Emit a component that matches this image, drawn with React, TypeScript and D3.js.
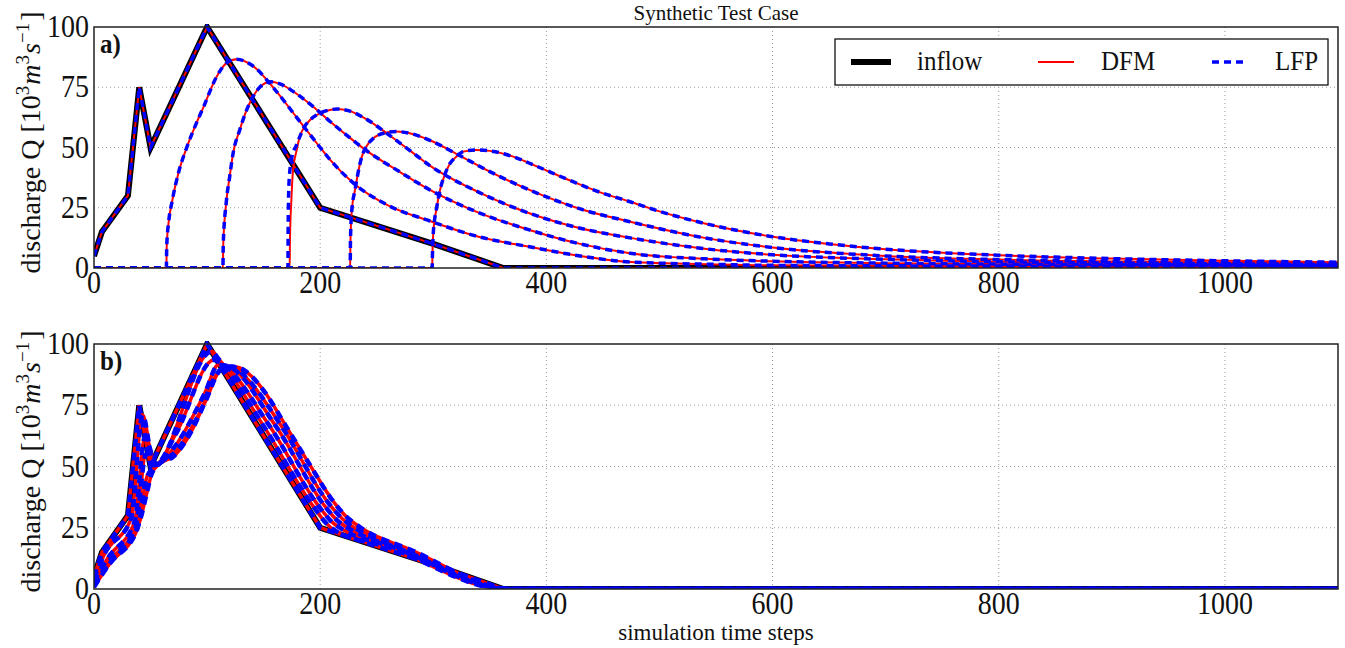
import React from 'react';
import * as d3 from 'd3';

const W = 1345;
const H = 648;
const FONT = '"Liberation Serif", "DejaVu Serif", serif';

const xTicks = [0, 200, 400, 600, 800, 1000];
const yTicks = [0, 25, 50, 75, 100];
const xGrid = [200, 400, 600, 800, 1000];
const yGrid = [25, 50, 75];
const xDomain = [0, 1100];
const yDomain = [0, 100];

const titleText = 'Synthetic Test Case';
const xLabelText = 'simulation time steps';
const legendLabels = ['inflow', 'DFM', 'LFP'];
const panelLabels = ['a)', 'b)'];

// inflow hydrograph
const inflow: [number, number][] = [
  [0, 5], [7, 15], [30, 30], [40, 75], [50, 50], [100, 100], [200, 25], [300, 10], [362, 0], [1100, 0],
];

// panel a: routed hydrographs at downstream locations (DFM)
const dfmA1: [number, number][] = [
  [0, 0], [64, 0], [64.3, 9], [66, 19], [69, 27.5], [75, 40], [82, 50], [90, 59.5], [97, 67], [108, 79],
  [117, 85], [126, 86.6], [140, 84], [160, 74], [180, 62], [200, 50], [209, 44.8], [230, 35], [260, 26],
  [297, 19.5], [340, 13], [385, 8.8], [430, 5], [474, 2.5], [550, 1.5], [600, 1.1], [800, 0.8], [1100, 0.6],
];
const dfmA2: [number, number][] = [
  [0, 0], [114, 0], [114.3, 10], [117, 27.5], [120, 38], [123, 47.6], [129, 57.5], [135, 65.6], [147, 75.2],
  [156, 77.3], [165, 76.3], [180, 72], [195, 66.5], [209, 60.7], [225, 54.5], [240, 49], [270, 40], [297, 32.4],
  [340, 23], [385, 15.8], [430, 10], [474, 6.1], [540, 3.8], [600, 2.8], [700, 2], [800, 1.6], [950, 1.3], [1100, 1.1],
];
const dfmA3: [number, number][] = [
  [0, 0], [173, 0], [173.3, 12], [174.5, 28], [176, 40.7], [179, 48.5], [182, 54.5], [186, 58.5], [191, 61.4],
  [200, 64.3], [208.6, 65.6], [215, 66], [225, 65.3], [240, 62], [260, 55.5], [280, 48.5], [297, 42.5], [340, 31.5],
  [385, 22.7], [430, 16.5], [474, 12.5], [540, 8], [600, 5.5], [700, 3.6], [800, 2.6], [950, 1.9], [1100, 1.5],
];
const dfmA4: [number, number][] = [
  [0, 0], [226.5, 0], [226.8, 12], [228, 24], [230.8, 32.4], [236.7, 46], [241, 50.5], [247, 53.8], [257, 56],
  [267.6, 56.6], [280, 55.8], [297, 53], [320, 47.5], [350, 40], [385, 32.4], [430, 24.5], [474, 19.2],
  [540, 12.5], [600, 8.5], [700, 5], [800, 3.5], [950, 2.5], [1100, 1.9],
];
const dfmA5: [number, number][] = [
  [0, 0], [299, 0], [299.3, 6], [300, 14.4], [303, 25], [306, 32.4], [310, 38.5], [314.8, 43.4], [320, 46],
  [326.5, 48.3], [338, 49], [350, 48.6], [370, 46.3], [390, 42.5], [420, 36.5], [447, 31.5], [474, 27.5], [500, 23.5],
  [540, 18.5], [600, 13], [650, 10], [700, 7.8], [800, 5.3], [900, 3.9], [1000, 3], [1100, 2.4],
];
// LFP differs slightly from DFM at the front of location 3
const lfpA3: [number, number][] = [
  [0, 0], [171.5, 0], [171.7, 18], [172.5, 36], [175, 46], [179, 51], [182, 54.5], [186, 58.5], [191, 61.4],
  [200, 64.3], [208.6, 65.6], [215, 66], [225, 65.3], [240, 62], [260, 55.5], [280, 48.5], [297, 42.5], [340, 31.5],
  [385, 22.7], [430, 16.5], [474, 12.5], [540, 8], [600, 5.5], [700, 3.6], [800, 2.6], [950, 1.9], [1100, 1.5],
];

// panel b: routed hydrographs (DFM ~ LFP)
const dfmB1: [number, number][] = [
  [0, 4], [9, 14], [33, 29], [43, 71], [53, 50.5], [104, 97], [110, 94], [150, 66.5], [195, 33], [205, 27],
  [212, 24.2], [260, 17], [364, 0], [1100, 0],
];
const dfmB2: [number, number][] = [
  [0, 3], [12, 12.5], [36, 27.5], [45, 62], [55, 51], [72, 63], [106, 93.5], [113, 92], [155, 66.7], [200, 33],
  [210, 27.5], [220, 24.3], [265, 17], [366, 0], [1100, 0],
];
const dfmB3: [number, number][] = [
  [0, 2], [13, 11], [37, 25.5], [46, 55], [56, 51], [72, 58.5], [98, 80], [110, 91.5], [118, 91], [160, 67],
  [205, 33.3], [215, 28], [226, 24.5], [270, 16.5], [367, 0], [1100, 0],
];
const dfmB4: [number, number][] = [
  [0, 1.5], [14, 10.5], [38, 24], [47, 46], [57, 51], [72, 56], [98, 76], [112, 89.5], [122, 90.8], [135, 86],
  [165, 67], [210, 33.5], [220, 28.5], [232, 24.5], [275, 16], [368, 0], [1100, 0],
];
const dfmB5: [number, number][] = [
  [0, 0.8], [14, 10.4], [32, 20], [40.7, 28], [46.6, 39], [51, 47], [58, 51.2], [70, 54], [82, 61], [94, 72],
  [105, 85], [117, 90.7], [126, 90.6], [140, 86.5], [150, 81], [170, 66.3], [190, 51.3], [212, 35.5], [222, 30],
  [236, 25], [280, 16], [369, 0], [1100, 0],
];

const panelADfm = [inflow, dfmA1, dfmA2, dfmA3, dfmA4, dfmA5];
const panelALfp = [inflow, dfmA1, dfmA2, lfpA3, dfmA4, dfmA5];
const panelBDfm = [inflow, dfmB1, dfmB2, dfmB3, dfmB4, dfmB5];
const panelBLfp = [inflow, dfmB1, dfmB2, dfmB3, dfmB4, dfmB5];

const PL = 94;
const PR = 1338;
const panels = [
  { top: 27, bottom: 268, dfm: panelADfm, lfp: panelALfp, redW: 2, blueW: 3.5, dash: '7 5', label: panelLabels[0] },
  { top: 344, bottom: 589, dfm: panelBDfm, lfp: panelBLfp, redW: 3.5, blueW: 4.5, dash: '8 6', label: panelLabels[1] },
];

function Txt({ x, y, size, anchor = 'start', weight = 'normal', stretch = 1.12, children }: any) {
  return (
    <text
      transform={`translate(${x},${y}) scale(1,${stretch})`}
      textAnchor={anchor}
      fontFamily={FONT}
      fontSize={size}
      fontWeight={weight}
      fill="#111"
    >
      {children}
    </text>
  );
}

function YLabel({ cx, cy }: { cx: number; cy: number }) {
  return (
    <text
      transform={`translate(${cx},${cy}) rotate(-90)`}
      textAnchor="middle"
      fontFamily={FONT}
      fontSize={28}
      fill="#111"
    >
      discharge Q [10
      <tspan dy={-11} fontSize={19}>3</tspan>
      <tspan dy={11} fontStyle="italic" dx={1}>m</tspan>
      <tspan dy={-11} fontSize={19}>3</tspan>
      <tspan dy={11} fontStyle="italic" dx={1}>s</tspan>
      <tspan dy={-11} fontSize={19}>−1</tspan>
      <tspan dy={11} dx={2}>]</tspan>
    </text>
  );
}

function Panel({ p, idx }: { p: typeof panels[number]; idx: number }) {
  const x = d3.scaleLinear().domain(xDomain).range([PL, PR]);
  const y = d3.scaleLinear().domain(yDomain).range([p.bottom, p.top]);
  const straight = d3.line<[number, number]>().x((d) => x(d[0])).y((d) => y(d[1]));
  const smooth = d3
    .line<[number, number]>()
    .x((d) => x(d[0]))
    .y((d) => y(d[1]))
    .curve(d3.curveMonotoneX);
  const clipId = `clip${idx}`;
  return (
    <g>
      <defs>
        <clipPath id={clipId}>
          <rect x={PL} y={p.top - 3} width={PR - PL} height={p.bottom - p.top + 3} />
        </clipPath>
      </defs>
      {xGrid.map((t) => (
        <line key={'gx' + t} x1={x(t)} x2={x(t)} y1={p.top} y2={p.bottom} stroke="#9a9a9a" strokeWidth={1} strokeDasharray="1 3" />
      ))}
      {yGrid.map((t) => (
        <line key={'gy' + t} x1={PL} x2={PR} y1={y(t)} y2={y(t)} stroke="#9a9a9a" strokeWidth={1} strokeDasharray="1 3" />
      ))}
      <g clipPath={`url(#${clipId})`}>
        <path d={straight(inflow) || ''} fill="none" stroke="#000" strokeWidth={6} strokeLinejoin="miter" />
        {p.dfm.map((s, i) => (
          <path key={'r' + i} d={(i === 0 ? straight(s) : smooth(s)) || ''} fill="none" stroke="#ff0000" strokeWidth={p.redW} />
        ))}
        {p.lfp.map((s, i) => (
          <path key={'b' + i} d={(i === 0 ? straight(s) : smooth(s)) || ''} fill="none" stroke="#0000ff" strokeWidth={p.blueW} strokeDasharray={p.dash} />
        ))}
      </g>
      <rect x={PL} y={p.top} width={PR - PL} height={p.bottom - p.top} fill="none" stroke="#222" strokeWidth={1.5} />
      {xTicks.map((t) => (
        <Txt key={'xt' + t} x={x(t)} y={p.bottom + 25} size={28} anchor="middle">
          {t}
        </Txt>
      ))}
      {yTicks.map((t) => (
        <Txt key={'yt' + t} x={PL - 5} y={y(t) + 10} size={28} anchor="end">
          {t}
        </Txt>
      ))}
      <Txt x={PL + 6} y={p.top + 26} size={25} weight="bold">
        {p.label}
      </Txt>
      <YLabel cx={40} cy={(p.top + p.bottom) / 2 - 5} />
    </g>
  );
}

function Legend() {
  const x0 = 835;
  const y0 = 39;
  const w = 493;
  const h = 46;
  const cy = y0 + h / 2;
  return (
    <g>
      <rect x={x0} y={y0} width={w} height={h} fill="#fff" stroke="#111" strokeWidth={1.3} />
      <line x1={851} x2={891} y1={cy} y2={cy} stroke="#000" strokeWidth={6} />
      <Txt x={917} y={cy + 8} size={25}>{legendLabels[0]}</Txt>
      <line x1={1038} x2={1074} y1={cy} y2={cy} stroke="#ff0000" strokeWidth={2} />
      <Txt x={1101} y={cy + 8} size={25}>{legendLabels[1]}</Txt>
      <line x1={1212} x2={1248} y1={cy} y2={cy} stroke="#0000ff" strokeWidth={3.5} strokeDasharray="7 5" />
      <Txt x={1275} y={cy + 8} size={25}>{legendLabels[2]}</Txt>
    </g>
  );
}

export default function App() {
  return (
    <svg width={W} height={H} viewBox={`0 0 ${W} ${H}`} style={{ display: 'block', position: 'absolute', left: 0, top: 0, background: '#fff' }}>
      <rect x={0} y={0} width={W} height={H} fill="#fff" />
      <Txt x={(PL + PR) / 2} y={20} size={21} anchor="middle" stretch={1}>
        {titleText}
      </Txt>
      {panels.map((p, i) => (
        <Panel key={i} p={p} idx={i} />
      ))}
      <Legend />
      <Txt x={(PL + PR) / 2} y={640} size={23} anchor="middle" stretch={1}>
        {xLabelText}
      </Txt>
    </svg>
  );
}
